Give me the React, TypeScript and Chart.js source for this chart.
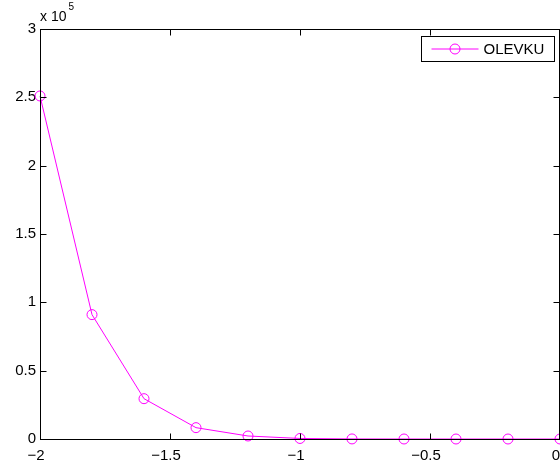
import { useEffect, useRef } from "react";
import { Chart, registerables } from "chart.js";

Chart.register(...registerables);

const FONT = "'Liberation Sans', Arial, Helvetica, sans-serif";

// Sample positions and the OLEVKU series
const xValues = [-2, -1.8, -1.6, -1.4, -1.2, -1, -0.8, -0.6, -0.4, -0.2, 0];
const olevku = [251000, 91000, 29500, 8300, 2200, 400, 50, 5, 0, 0, 0];
const seriesLabel = "OLEVKU";

// Axis ticks (y ticks in units of 10^yExponent)
const xTicks = [-2, -1.5, -1, -0.5, 0];
const yTicks = [0, 0.5, 1, 1.5, 2, 2.5, 3];
const yExponent = 5;

const MAGENTA = "#ff00ff";

const fmt = (v: number) => String(Math.round(v * 100) / 100).replace("-", "\u2212");

// Boxed axes with inward ticks, exponent note and an in-plot legend
const matlabAxes = {
  id: "matlabAxes",
  afterDraw(chart: any) {
    const { ctx, chartArea: a, scales } = chart;
    const xs = scales.x;
    const ys = scales.y;
    const tl = 6;
    const L = a.left + 0.5;
    const T = a.top + 0.5;
    const B = a.bottom + 0.5;
    const R = a.right - 0.5;
    ctx.save();
    ctx.strokeStyle = "#000";
    ctx.lineWidth = 1;
    ctx.strokeRect(L, T, R - L, B - T);
    ctx.beginPath();
    xTicks.forEach((v) => {
      const px = Math.round(xs.getPixelForValue(v)) + 0.5;
      ctx.moveTo(px, B);
      ctx.lineTo(px, B - tl);
      ctx.moveTo(px, T);
      ctx.lineTo(px, T + tl);
    });
    yTicks.forEach((v) => {
      const py = Math.round(ys.getPixelForValue(v * Math.pow(10, yExponent))) + 0.5;
      ctx.moveTo(L, py);
      ctx.lineTo(L + tl, py);
      ctx.moveTo(R, py);
      ctx.lineTo(R - tl, py);
    });
    ctx.stroke();

    // exponent label
    ctx.fillStyle = "#000";
    ctx.textAlign = "left";
    ctx.textBaseline = "alphabetic";
    ctx.font = `14px ${FONT}`;
    ctx.fillText("x 10", a.left, a.top - 8);
    const w = ctx.measureText("x 10").width;
    ctx.font = `10px ${FONT}`;
    ctx.fillText(String(yExponent), a.left + w + 2, a.top - 19);

    // legend
    const lx = 421.5, ly = 36.5, lw = 133, lh = 25;
    ctx.fillStyle = "#fff";
    ctx.fillRect(lx, ly, lw, lh);
    ctx.strokeStyle = "#000";
    ctx.strokeRect(lx, ly, lw, lh);
    const cy = ly + lh / 2;
    ctx.strokeStyle = MAGENTA;
    ctx.beginPath();
    ctx.moveTo(lx + 10, cy);
    ctx.lineTo(lx + 57, cy);
    ctx.stroke();
    ctx.beginPath();
    ctx.arc(lx + 33.5, cy, 5, 0, Math.PI * 2);
    ctx.stroke();
    ctx.fillStyle = "#000";
    ctx.font = `15px ${FONT}`;
    ctx.textBaseline = "middle";
    ctx.fillText(chart.data.datasets[0].label, lx + 62, cy + 1);
    ctx.restore();
  },
};

export default function App() {
  const ref = useRef<HTMLCanvasElement>(null);

  useEffect(() => {
    if (!ref.current) return;
    const chart = new Chart(ref.current, {
      type: "line",
      data: {
        datasets: [
          {
            label: seriesLabel,
            data: xValues.map((x, i) => ({ x, y: olevku[i] })),
            borderColor: MAGENTA,
            borderWidth: 1,
            backgroundColor: "transparent",
            pointStyle: "circle",
            pointRadius: 5,
            pointBorderWidth: 1,
            pointBorderColor: MAGENTA,
            pointBackgroundColor: "transparent",
            tension: 0,
            clip: false as any,
          },
        ],
      },
      options: {
        animation: false,
        responsive: false,
        devicePixelRatio: 1,
        layout: { padding: { top: 29, right: 20, left: 0, bottom: 0 } },
        plugins: { legend: { display: false }, tooltip: { enabled: false } },
        scales: {
          x: {
            type: "linear",
            min: -2,
            max: 0,
            grid: { display: false, drawTicks: false },
            border: { display: false },
            afterBuildTicks: (s: any) => {
              s.ticks = xTicks.map((value) => ({ value }));
            },
            afterFit: (s: any) => {
              s.height = 29;
            },
            ticks: {
              color: "#000",
              font: { family: FONT, size: 15 },
              padding: 8,
              labelOffset: -4,
              maxRotation: 0,
              autoSkip: false,
              callback: (v: any) => fmt(Number(v)),
            },
          },
          y: {
            type: "linear",
            min: 0,
            max: 3 * Math.pow(10, yExponent),
            grid: { display: false, drawTicks: false },
            border: { display: false },
            afterBuildTicks: (s: any) => {
              s.ticks = yTicks.map((v) => ({ value: v * Math.pow(10, yExponent) }));
            },
            afterFit: (s: any) => {
              s.width = 40;
            },
            ticks: {
              color: "#000",
              font: { family: FONT, size: 15 },
              padding: 4,
              autoSkip: false,
              callback: (v: any) => fmt(Number(v) / Math.pow(10, yExponent)),
            },
          },
        },
      },
      plugins: [matlabAxes],
    });
    return () => chart.destroy();
  }, []);

  return (
    <div
      style={{
        position: "fixed",
        left: 0,
        top: 0,
        width: 560,
        height: 468,
        overflow: "hidden",
        background: "#fff",
      }}
    >
      <canvas ref={ref} width={580} height={468} style={{ width: 580, height: 468, display: "block" }} />
    </div>
  );
}
